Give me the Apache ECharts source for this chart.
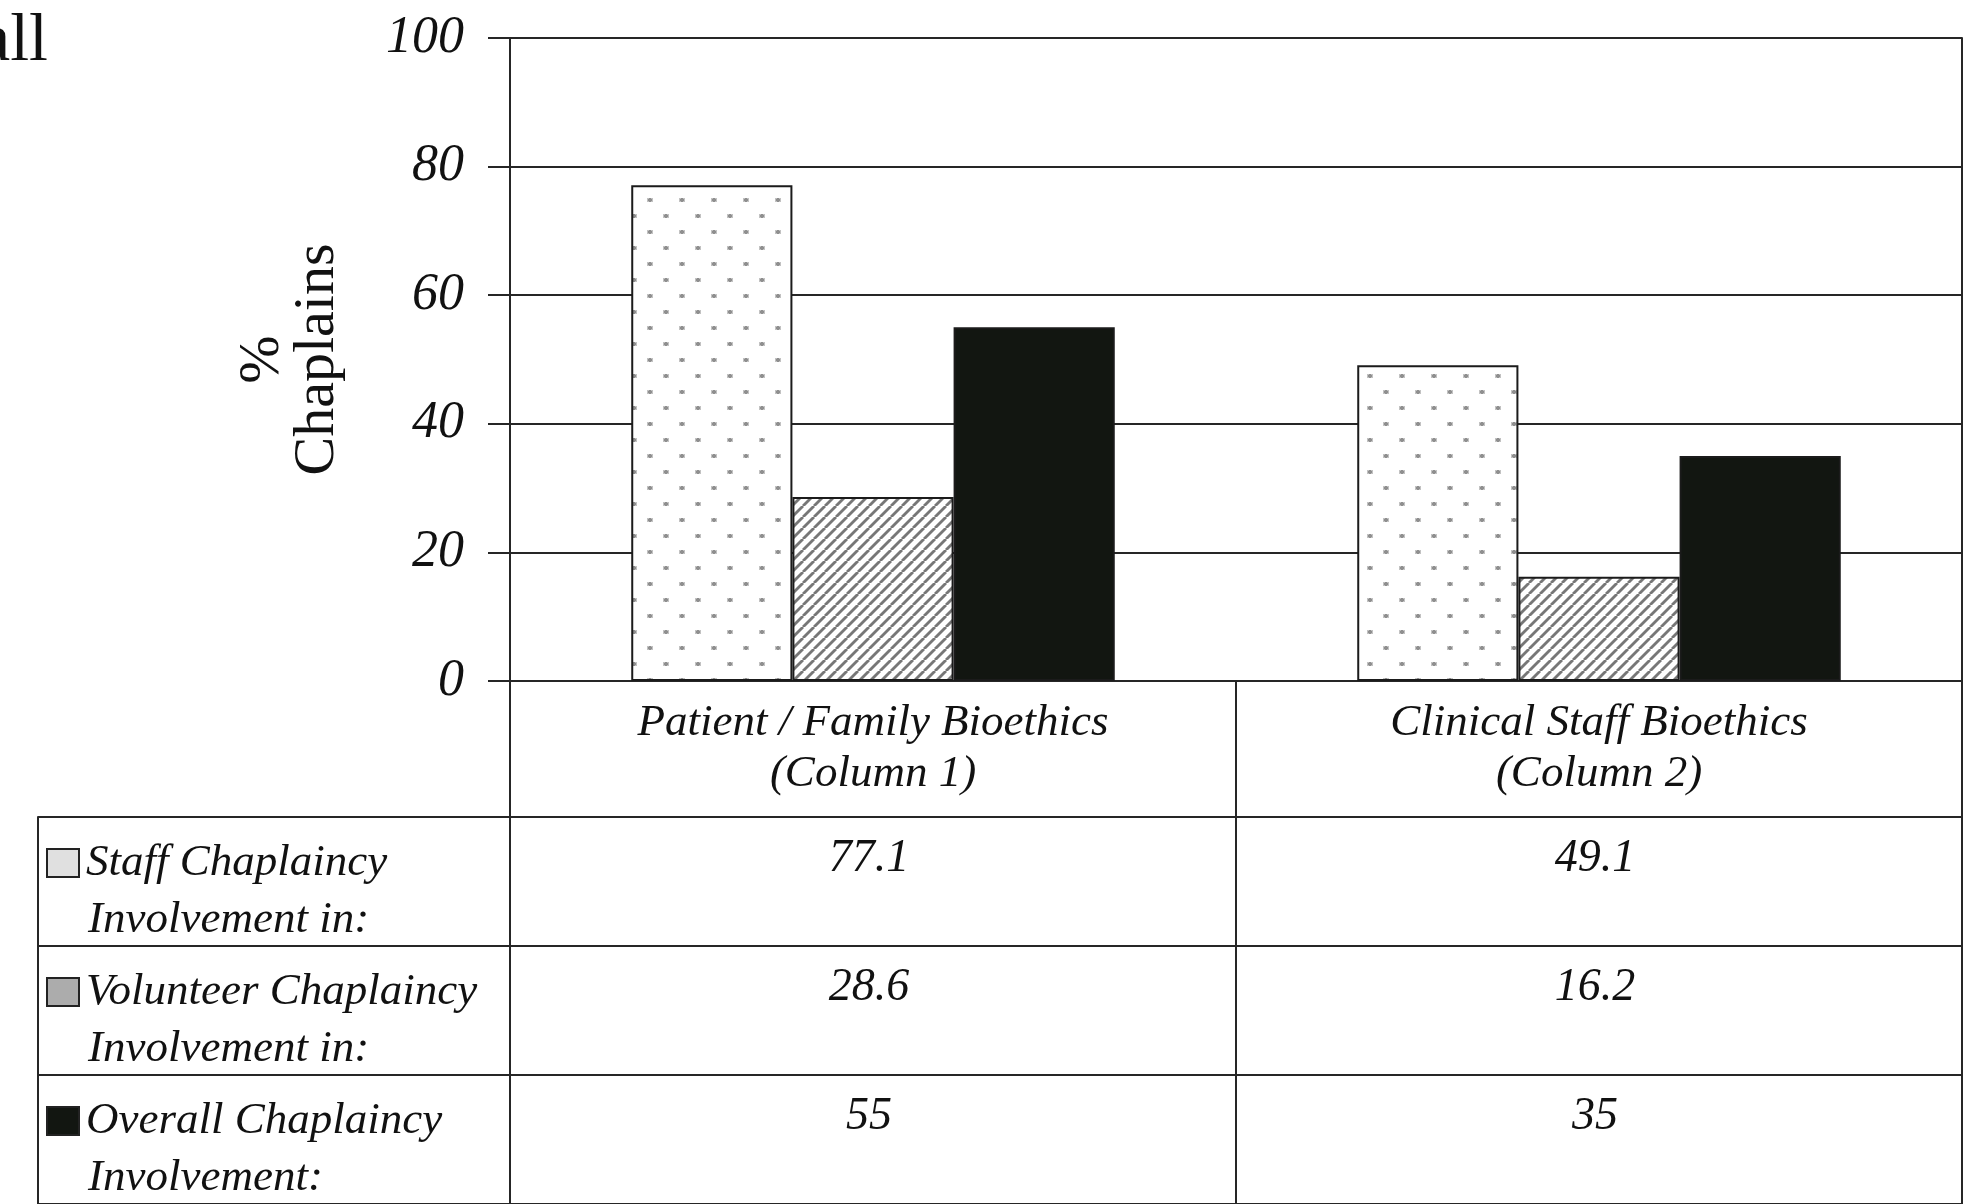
<!DOCTYPE html>
<html>
<head>
<meta charset="utf-8">
<script src="https://cdn.jsdelivr.net/npm/echarts@6/dist/echarts.min.js"></script>
<style>
html,body{margin:0;padding:0;background:#fff;}
#chart{width:1973px;height:1204px;}
</style>
</head>
<body>
<div id="chart"></div>
<script>
// ---- data ----
const categories = ['Patient / Family Bioethics\n(Column 1)', 'Clinical Staff Bioethics\n(Column 2)'];
const seriesNames = ['Staff Chaplaincy Involvement in:', 'Volunteer Chaplaincy Involvement in:', 'Overall Chaplaincy Involvement:'];
const staffValues = [77.1, 49.1];
const volunteerValues = [28.6, 16.2];
const overallValues = [55, 35];
const rowLabelLines = [
  ['Staff Chaplaincy', 'Involvement in:'],
  ['Volunteer Chaplaincy', 'Involvement in:'],
  ['Overall Chaplaincy', 'Involvement:']
];
const yMin = 0, yMax = 100, yStep = 20;
const yAxisTitle = '%\nChaplains';
const cornerText = 'all';

// ---- styles ----
const SERIF = "'Liberation Serif', 'Times New Roman', serif";
const INK = '#111111';
const LINE = '#262626';

function dotPattern() {
  const c = document.createElement('canvas');
  c.width = 32; c.height = 32;
  const g = c.getContext('2d');
  g.fillStyle = '#ffffff'; g.fillRect(0, 0, 32, 32);
  g.fillStyle = '#c2c2c2';
  g.fillRect(7, 6, 6, 4);
  g.fillRect(23, 22, 6, 4);
  g.fillStyle = '#8f8f8f';
  g.fillRect(9, 6, 2, 4);
  g.fillRect(25, 22, 2, 4);
  g.fillRect(8, 7, 4, 2);
  g.fillRect(24, 23, 4, 2);
  return c;
}
function hatchPattern() {
  const s = 11;
  const c = document.createElement('canvas');
  c.width = s; c.height = s;
  const g = c.getContext('2d');
  g.fillStyle = '#ffffff'; g.fillRect(0, 0, s, s);
  g.strokeStyle = '#777777'; g.lineWidth = 2.8;
  for (const k of [-s, 0, s]) {
    g.beginPath(); g.moveTo(k, s); g.lineTo(k + s, 0); g.stroke();
  }
  return c;
}

const seriesValues = [staffValues, volunteerValues, overallValues];
const barFills = [
  { image: dotPattern(), repeat: 'repeat' },
  { image: hatchPattern(), repeat: 'repeat' },
  '#121611'
];
const iconFills = ['#e0e0e0', '#acacac', '#121611'];

const tableData = [];
seriesValues.forEach((vals, r) => {
  vals.forEach((v, c) => tableData.push([c, r, v]));
});

const rowKeys = rowLabelLines.map((_, i) => i);
const rich = { t: { fontFamily: SERIF, fontStyle: 'italic', fontSize: 45, lineHeight: 57, color: INK, padding: [0, 0, 0, 8] },
               pad: { width: 32, height: 28 } };
iconFills.forEach((f, i) => {
  rich['ic' + i] = { width: 30, height: 26, backgroundColor: f, borderColor: '#222', borderWidth: 2 };
});

const chart = echarts.init(document.getElementById('chart'), null, { renderer: 'canvas' });

const option = {
  backgroundColor: '#ffffff',
  animation: false,
  textStyle: { fontFamily: SERIF, color: INK },
  grid: [
    { left: 510, right: 11, top: 38, bottom: 523, containLabel: false },
    { left: 510, right: 11, top: 817, height: 393, containLabel: false },
    { left: 38, width: 472, top: 817, height: 393, containLabel: false }
  ],
  xAxis: [
    {
      type: 'category', gridIndex: 0, data: categories,
      axisLine: { show: true, lineStyle: { color: LINE, width: 2 } },
      axisTick: { show: true, alignWithLabel: false, length: 136, lineStyle: { color: LINE, width: 2 } },
      axisLabel: { margin: 17, fontFamily: SERIF, fontStyle: 'italic', fontSize: 45, lineHeight: 51, color: INK },
      splitLine: { show: false }
    },
    {
      type: 'category', gridIndex: 1, data: categories, position: 'top',
      axisLine: { show: true, lineStyle: { color: LINE, width: 2 } },
      axisTick: { show: false }, axisLabel: { show: false },
      splitLine: { show: true, lineStyle: { color: LINE, width: 2 } }
    },
    { type: 'value', gridIndex: 2, min: 0, max: 1, show: false }
  ],
  yAxis: [
    {
      type: 'value', gridIndex: 0, min: yMin, max: yMax, interval: yStep,
      name: yAxisTitle, nameLocation: 'middle', nameRotate: 90, nameGap: 165,
      nameTextStyle: { fontFamily: SERIF, fontSize: 58, lineHeight: 55, color: INK },
      axisLine: { show: true, lineStyle: { color: LINE, width: 2 } },
      axisTick: { show: true, length: 22, lineStyle: { color: LINE, width: 2 } },
      axisLabel: { margin: 46, fontFamily: SERIF, fontStyle: 'italic', fontSize: 52, color: INK },
      splitLine: { show: true, lineStyle: { color: LINE, width: 2 } }
    },
    {
      type: 'value', gridIndex: 0, min: yMin, max: yMax, interval: yStep, position: 'right',
      axisLine: { show: true, lineStyle: { color: LINE, width: 2 } },
      axisTick: { show: false }, axisLabel: { show: false }, splitLine: { show: false }
    },
    {
      type: 'category', gridIndex: 1, data: rowKeys, inverse: true,
      axisLine: { show: true, lineStyle: { color: LINE, width: 2 } },
      axisTick: { show: false }, axisLabel: { show: false },
      splitLine: { show: true, lineStyle: { color: LINE, width: 2 } }
    },
    {
      type: 'category', gridIndex: 2, data: rowKeys, inverse: true,
      axisLine: { show: true, lineStyle: { color: LINE, width: 2 } },
      axisTick: { show: false },
      axisLabel: {
        inside: true, margin: 10, align: 'left', padding: [20, 0, 0, 0],
        formatter: (v, i) => `{ic${i}|}{t|${rowLabelLines[i][0]}}\n{pad|}{t|${rowLabelLines[i][1]}}`,
        rich: rich
      },
      splitLine: { show: true, lineStyle: { color: LINE, width: 2 } }
    }
  ],
  series: [
    ...seriesValues.map((vals, i) => ({
      type: 'bar', name: seriesNames[i], xAxisIndex: 0, yAxisIndex: 0,
      data: vals, barGap: '0%', barCategoryGap: '33.4%',
      itemStyle: { color: barFills[i], borderColor: '#1b1b1b', borderWidth: 2 }
    })),
    {
      type: 'scatter', xAxisIndex: 1, yAxisIndex: 2, data: tableData,
      symbolSize: 1, itemStyle: { color: '#ffffff', opacity: 1 }, silent: true,
      label: {
        show: true, position: 'inside', offset: [-4, -23],
        formatter: p => String(p.value[2]),
        fontFamily: SERIF, fontStyle: 'italic', fontSize: 46, color: INK,
        textBorderWidth: 0, opacity: 1
      }
    }
  ],
  graphic: [
    { type: 'text', left: -20, top: 8, style: { text: cornerText, font: `68px ${SERIF}`, fill: INK } }
  ]
};
chart.setOption(option);
</script>
</body>
</html>
